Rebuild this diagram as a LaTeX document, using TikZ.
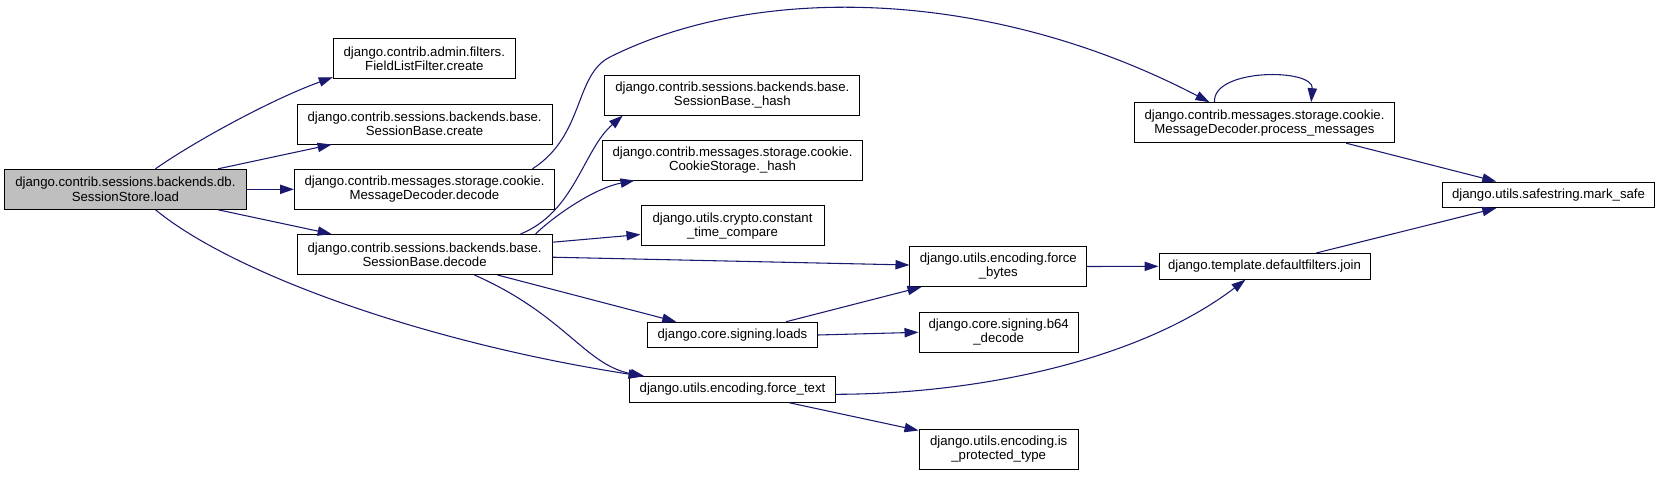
\documentclass[tikz,border=0pt]{standalone}
\usepackage{fontspec}
\setmainfont{Liberation Sans}
\usepackage{tikz}
\usetikzlibrary{arrows.meta,calc}
\usepackage{xcolor}
\definecolor{callblue}{HTML}{191970}
\definecolor{rootgray}{HTML}{BFBFBF}

\begin{document}
\begin{tikzpicture}[x=0.75pt, y=-0.75pt,
    func/.style={draw, line width=0.75pt, fill=white, align=center, inner sep=1pt, minimum height=30pt, font=\fontsize{9.9}{10.6}\selectfont},
    funcline/.style={func, minimum height=19.2pt},
    callarrow/.style={draw=callblue, line width=0.8pt, -{Triangle[length=10.5pt,width=7pt]}}]
            \useasboundingbox (0,0) rectangle (1660,476);

            % Caller
            \node[func, minimum width=181.5pt, fill=rootgray] (load) at (125.4,189.3) {django.contrib.sessions.backends.db.\\SessionStore.load};

            % First column of callees
            \node[func, minimum width=136.5pt] (flf) at (424.3,58.7) {django.contrib.admin.filters.\\FieldListFilter.create};
            \node[func, minimum width=191.25pt] (sbcreate) at (424.6,124) {django.contrib.sessions.backends.base.\\SessionBase.create};
            \node[func, minimum width=195pt] (mdecode) at (424.5,189.3) {django.contrib.messages.storage.cookie.\\MessageDecoder.decode};
            \node[func, minimum width=191.25pt] (sbdecode) at (424.6,254.5) {django.contrib.sessions.backends.base.\\SessionBase.decode};

            % Second column
            \node[func, minimum width=191.25pt] (sbhash) at (732.3,95) {django.contrib.sessions.backends.base.\\SessionBase.\_hash};
            \node[func, minimum width=195pt] (cshash) at (732.5,160) {django.contrib.messages.storage.cookie.\\CookieStorage.\_hash};
            \node[func, minimum width=137.25pt] (ctc) at (732.5,225.7) {django.utils.crypto.constant\\\_time\_compare};
            \node[funcline, minimum width=127.2pt] (loads) at (732.5,335) {django.core.signing.loads};
            \node[funcline, minimum width=154.2pt] (ftext) at (732.5,389.5) {django.utils.encoding.force\_text};

            % Third column
            \node[func, minimum width=132.5pt] (fbytes) at (998.3,266.5) {django.utils.encoding.force\\\_bytes};
            \node[func, minimum width=119.5pt] (b64) at (998.7,332.3) {django.core.signing.b64\\\_decode};
            \node[func, minimum width=119.5pt] (isprot) at (998.7,449.5) {django.utils.encoding.is\\\_protected\_type};

            % Right side
            \node[func, minimum width=195.3pt] (procmsg) at (1264.5,122.7) {django.contrib.messages.storage.cookie.\\MessageDecoder.process\_messages};
            \node[funcline, minimum width=158.25pt] (join) at (1264.5,266.3) {django.template.defaultfilters.join};
            \node[funcline, minimum width=159.2pt] (marksafe) at (1548.5,194.8) {django.utils.safestring.mark\_safe};

            % Calls from load
            \draw[callarrow] ($(load.north west)+(151.6,0)$) .. controls (192,143) and (270,100) .. ($(flf.south west)+(0,-2)$);
            \draw[callarrow] ($(load.north west)+(214.2,0)$) -- ($(sbcreate.south west)+(35,0)$);
            \draw[callarrow] (load.east) -- (mdecode.west);
            \draw[callarrow] ($(load.south west)+(214.2,0)$) -- ($(sbdecode.north west)+(35,0)$);
            \draw[callarrow] ($(load.south west)+(151.6,0)$) .. controls (235,275) and (428,343) .. ($(ftext.north west)+(13.3,0)$);

            % Decoder over the top, and its self call
            \draw[callarrow] ($(mdecode.north west)+(238.5,0)$) .. controls (585,135) and (574,75) .. (610,57)
                .. controls (760,-18) and (993.5,-10.8) .. ($(procmsg.north west)+(75.7,0)$);
            \draw[callarrow] ($(procmsg.north west)+(80.7,0)$) .. controls (1212,68) and (1314,68) .. ($(procmsg.north west)+(177.4,0)$);

            % Calls from SessionBase.decode
            \draw[callarrow] ($(sbdecode.north west)+(223.9,0)$) .. controls (575,212) and (583,150) .. ($(sbhash.south west)+(18.5,0)$);
            \draw[callarrow] ($(sbdecode.north west)+(238.9,0)$) .. controls (555,215) and (595,188) .. ($(cshash.south west)+(32.5,0)$);
            \draw[callarrow] ($(sbdecode.north east)+(0,8.2)$) -- ($(ctc.west)+(0,8.8)$);
            \draw[callarrow] ($(sbdecode.north east)+(0,23.2)$) -- ($(fbytes.west)+(0,-1.5)$);
            \draw[callarrow] ($(sbdecode.south west)+(200.9,0)$) -- ($(loads.north west)+(29,0)$);
            \draw[callarrow] ($(sbdecode.south west)+(177.9,0)$) .. controls (565,315) and (585,365) .. ($(ftext.north west)+(15.3,0)$);

            % Lower calls
            \draw[callarrow] ($(loads.north west)+(139,0)$) -- ($(fbytes.south west)+(12,0)$);
            \draw[callarrow] (loads.east) -- (b64.west);
            \draw[callarrow] ($(ftext.south west)+(160.3,0)$) -- ($(isprot.north west)+(0,1.5)$);
            \draw[callarrow] ($(ftext.east)+(0,4.8)$) .. controls (980,394) and (1140,360) .. ($(join.south west)+(87,0)$);
            \draw[callarrow] (fbytes.east) -- (join.west);

            % Into mark_safe
            \draw[callarrow] ($(procmsg.south west)+(212.4,0)$) -- ($(marksafe.north west)+(54.4,0)$);
            \draw[callarrow] ($(join.north west)+(157.7,0)$) -- ($(marksafe.south west)+(54.4,0)$);
        \end{tikzpicture}
\end{document}
